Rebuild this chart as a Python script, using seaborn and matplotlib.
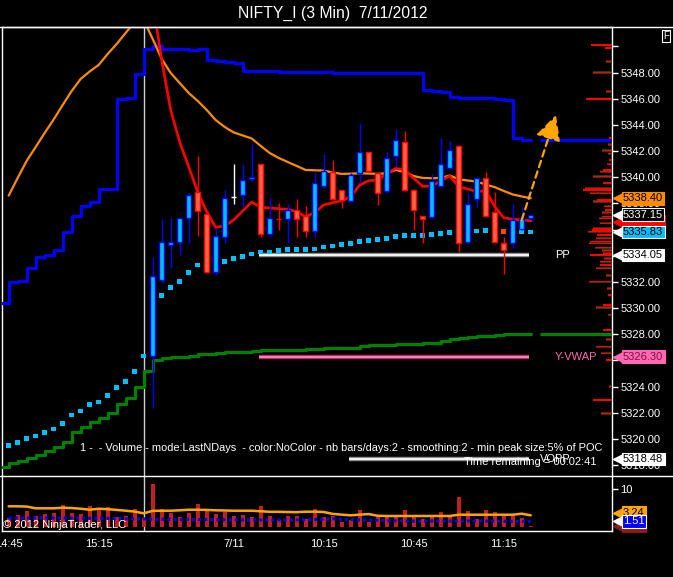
import matplotlib
matplotlib.use("Agg")
import matplotlib.pyplot as plt
from matplotlib.lines import Line2D
import numpy as np
import pandas as pd
import seaborn as sns

# bar index: 0 = first 3-min bar of 7/11, negatives = previous session
prev_idx = list(range(-16, 0))
day_idx = list(range(0, 43))
all_idx = prev_idx + day_idx

# candles of the current session
opens = [5326.34, 5332.13, 5334.83, 5335.03, 5336.87, 5338.85, 5337.17, 5332.79, 5335.46, 5338.50,
         5338.62, 5339.85, 5340.99, 5335.64, 5336.82, 5336.79, 5337.48, 5337.02, 5335.87, 5339.36,
         5340.43, 5339.01, 5338.17, 5340.31, 5341.96, 5340.36, 5338.93, 5341.60, 5342.68, 5339.01,
         5337.07, 5336.94, 5339.34, 5340.69, 5342.40, 5335.03, 5338.32, 5339.97, 5337.38, 5335.00,
         5335.00, 5336.05, 5336.87]
highs = [5333.91, 5336.81, 5336.92, 5337.00, 5338.78, 5341.63, 5337.50, 5336.10, 5339.03, 5341.02,
         5341.02, 5342.55, 5340.99, 5338.47, 5338.01, 5337.96, 5338.32, 5337.81, 5340.43, 5341.78,
         5341.33, 5339.01, 5340.31, 5344.08, 5341.96, 5340.43, 5342.01, 5343.70, 5343.52, 5339.08,
         5337.07, 5340.26, 5343.03, 5342.78, 5342.45, 5338.78, 5340.05, 5340.43, 5338.90, 5335.46,
         5337.96, 5337.71, 5337.15]
lows = [5322.37, 5331.90, 5333.09, 5334.06, 5335.00, 5335.52, 5332.66, 5332.53, 5335.00, 5337.96,
        5337.71, 5339.75, 5335.41, 5335.50, 5335.97, 5335.00, 5335.46, 5335.46, 5335.46, 5339.16,
        5338.27, 5337.68, 5338.14, 5339.54, 5340.40, 5337.91, 5338.80, 5340.82, 5338.98, 5335.97,
        5335.00, 5336.90, 5339.30, 5340.60, 5334.32, 5334.95, 5337.71, 5337.00, 5335.00, 5332.61,
        5334.57, 5336.00, 5336.87]
closes = [5332.48, 5335.03, 5335.03, 5336.92, 5338.62, 5337.40, 5332.79, 5335.49, 5338.45, 5338.50,
          5339.82, 5340.00, 5335.64, 5336.92, 5336.78, 5337.48, 5336.79, 5335.87, 5339.54, 5340.49,
          5338.32, 5338.24, 5340.18, 5341.96, 5340.51, 5338.78, 5341.50, 5342.83, 5339.06, 5337.48,
          5336.79, 5339.69, 5341.00, 5342.06, 5335.00, 5337.99, 5339.97, 5337.04, 5335.03, 5334.45,
          5336.76, 5336.79, 5337.15]

# slow average (orange), bars -16..42
slow_avg = [5338.60, 5339.95, 5341.25, 5342.32, 5343.39, 5344.42, 5345.53, 5346.60, 5347.52, 5348.09,
            5348.59, 5349.43, 5350.19, 5351.04, 5351.88, 5352.03,
            5350.58, 5349.05, 5347.98, 5347.21, 5346.45, 5345.84, 5345.15, 5344.38, 5343.85, 5343.43,
            5343.20, 5342.97, 5342.40, 5341.86, 5341.48, 5341.17, 5340.87, 5340.56, 5340.54, 5340.51,
            5340.37, 5340.26, 5340.28, 5340.31, 5340.29, 5340.26, 5340.31, 5340.56, 5340.41, 5340.10,
            5339.95, 5339.93, 5339.95, 5340.14, 5339.85, 5339.76, 5339.67, 5339.45, 5339.25, 5338.96,
            5338.69, 5338.54, 5338.40]

# fast average (red), bars 0..42
fast_avg = [5353.50, 5348.97, 5345.15, 5342.70, 5340.81, 5338.88, 5337.37, 5336.18, 5336.28, 5336.74,
            5337.43, 5338.11, 5337.71, 5337.66, 5337.60, 5337.56, 5337.37, 5336.99, 5337.30, 5337.89,
            5338.06, 5338.21, 5338.52, 5339.41, 5339.74, 5339.80, 5340.26, 5340.69, 5340.56, 5339.93,
            5339.30, 5339.34, 5339.72, 5340.10, 5339.28, 5339.11, 5338.90, 5338.98, 5337.76, 5336.91,
            5336.79, 5336.74, 5336.68]

# vwap dots, bars -16..42
vwap = [5319.48, 5319.71, 5320.02, 5320.22, 5320.48, 5320.76, 5321.17, 5321.83, 5322.14, 5322.62,
        5322.82, 5323.31, 5323.92, 5324.38, 5325.14, 5326.34,
        5329.55, 5330.95, 5331.56, 5332.02, 5332.71, 5333.30, 5333.30, 5333.37, 5333.55, 5333.78,
        5333.93, 5334.14, 5334.29, 5334.29, 5334.39, 5334.47, 5334.47, 5334.47, 5334.52, 5334.67,
        5334.75, 5334.85, 5334.93, 5335.08, 5335.16, 5335.23, 5335.31, 5335.46, 5335.54, 5335.54,
        5335.57, 5335.65, 5335.72, 5335.77, 5335.84, 5335.84, 5335.90, 5335.92, 5335.92, 5335.84,
        5335.84, 5335.84, 5335.83]
vwap_down_bars = [39]

# stepped bands, bars -17..42
step_idx = list(range(-17, 43))
upper_step = [5330.42, 5332.02, 5332.10, 5333.05, 5333.93, 5334.10, 5334.44, 5335.80, 5337.07, 5337.83,
              5338.14, 5339.13, 5339.13, 5346.01, 5346.09, 5347.92, 5349.83,
              5350.04, 5349.83, 5349.80, 5349.80, 5349.77, 5349.79, 5348.99, 5348.92, 5348.84, 5348.76,
              5348.15, 5348.15, 5348.15, 5348.15, 5348.08, 5348.08, 5348.08, 5348.08, 5348.08, 5348.08,
              5348.00, 5348.00, 5348.00, 5348.00, 5348.00, 5348.00, 5348.00, 5348.00, 5348.00, 5348.00,
              5346.68, 5346.60, 5346.52, 5346.17, 5346.07, 5346.07, 5346.07, 5346.07, 5346.01, 5345.91,
              5343.03, 5342.88, 5342.88]
lower_step = [5317.83, 5318.14, 5318.34, 5318.52, 5318.80, 5319.10, 5319.41, 5319.79, 5320.55, 5320.94,
              5321.32, 5321.58, 5322.01, 5322.65, 5323.15, 5323.99, 5325.19,
              5326.04, 5326.16, 5326.24, 5326.29, 5326.36, 5326.49, 5326.53, 5326.57, 5326.62, 5326.68,
              5326.68, 5326.75, 5326.82, 5326.82, 5326.82, 5326.82, 5326.82, 5326.90, 5326.90, 5326.98,
              5326.98, 5326.98, 5326.98, 5327.08, 5327.16, 5327.16, 5327.16, 5327.24, 5327.24, 5327.24,
              5327.36, 5327.36, 5327.51, 5327.62, 5327.69, 5327.77, 5327.85, 5327.85, 5327.92, 5328.00,
              5328.00, 5328.05, 5328.05]

# horizontal levels
level_names = ["PP", "Y-VWAP", "VOPP"]
level_values = [5334.05, 5326.30, 5318.48]
level_start = [11.8, 11.8, 21.8]
level_end = [41.8, 41.8, 41.8]

# drawn arrow (bar index, price)
arrow_x = [41.0, 44.8]
arrow_y = [5336.74, 5344.77]

# volume profile on the right edge
profile_price = [5350.11, 5349.89, 5348.84, 5348.00, 5346.55, 5345.99, 5343.00, 5342.50, 5342.04, 5341.80,
                 5341.33, 5341.00, 5340.56, 5340.43, 5340.05, 5339.57, 5339.16, 5339.03, 5338.78, 5338.27,
                 5338.14, 5337.80, 5337.50, 5337.30, 5336.99, 5336.87, 5336.50, 5336.10, 5335.97, 5335.84,
                 5335.59, 5335.34, 5335.08, 5334.96, 5334.62, 5334.40, 5334.19, 5334.06, 5333.80, 5333.55,
                 5333.30, 5333.05, 5332.50, 5332.02, 5331.50, 5331.00, 5330.24, 5330.06, 5329.50, 5328.33,
                 5327.60, 5327.05, 5326.55, 5326.04, 5324.00, 5322.98, 5321.96]
profile_len = [21, 7, 6, 19, 6, 26, 3, 4, 10, 4, 3, 5, 9, 12, 19, 9, 27, 29, 22, 15,
               19, 8, 7, 10, 10, 13, 12, 19, 20, 24, 15, 16, 22, 23, 17, 10, 9, 22, 8, 12,
               12, 16, 6, 23, 5, 4, 9, 16, 4, 9, 6, 16, 11, 6, 3, 19, 11]

# price markers on the axis
tag_values = [5336.60, 5338.40, 5337.15, 5335.83, 5334.05, 5326.30, 5318.48]
tag_texts = ["5336.68", "5338.40", "5337.15", "5335.83", "5334.05", "5326.30", "5318.48"]
tag_face = ["#FF0000", "#FF8C00", "#000000", "#00BFFF", "#FFFFFF", "#FF69B4", "#FFFFFF"]
tag_text = ["#FF0000", "#000000", "#FFFFFF", "#000000", "#000000", "#7A1040", "#000000"]

# volume panel, bars -16..42
volume = [2.31, 3.10, 4.16, 2.84, 3.37, 3.63, 5.76, 3.63, 3.37, 5.49, 4.43, 5.23, 2.57, 2.84, 4.69, 2.31,
          11.33, 4.69, 3.63, 2.57, 3.63, 6.02, 4.69, 3.37, 3.90, 2.84, 3.10, 2.57, 5.49, 2.84, 1.78,
          2.84, 2.84, 2.04, 4.69, 2.57, 2.84, 1.25, 1.78, 4.43, 1.25, 2.57, 2.57, 2.57, 4.43, 2.57,
          2.04, 2.84, 3.90, 2.84, 7.88, 4.16, 2.04, 4.43, 3.90, 2.84, 2.84, 2.31, 0.20]
vol_avg = [5.41, 5.41, 5.35, 4.88, 4.88, 4.88, 5.04, 4.95, 4.77, 4.50, 4.77, 4.65, 4.45, 4.25, 4.00, 3.55,
           4.20, 4.24, 4.24, 4.35, 4.50, 4.50, 4.45, 4.35, 4.30, 4.24, 4.24, 4.24, 4.10, 3.95, 3.95,
           3.90, 3.85, 3.98, 3.98, 3.90, 3.40, 3.20, 3.02, 3.20, 3.35, 2.90, 2.84, 2.84, 2.84, 2.84,
           2.84, 2.84, 2.84, 2.84, 3.18, 3.18, 3.18, 3.18, 3.18, 3.18, 3.18, 3.45, 3.02]
vol_base = [2.3, 2.3, 2.3, 2.3, 2.3, 2.3, 2.3, 2.3, 2.25, 2.25, 2.2, 2.2, 2.2, 2.1, 2.1, 2.1,
            2.0, 2.0, 2.0, 1.95, 1.95, 1.9, 1.9, 1.85, 1.85, 1.8, 1.8, 1.8, 1.8, 1.8, 1.8, 1.8, 1.8,
            1.85, 1.9, 2.0, 2.1, 2.0, 1.9, 1.8, 1.75, 1.7, 1.6, 1.6, 1.55, 1.5, 1.5, 1.5, 1.5, 1.5,
            1.5, 1.55, 1.5, 1.5, 1.5, 1.45, 1.45, 1.4, 1.4]
vol_tag_values = [0.15, 3.75, 1.40]
vol_tag_texts = ["0.20", "3.24", "1.51"]
vol_tag_face = ["#8B1A1A", "#FFA500", "#0000FF"]
vol_tag_text = ["#8B1A1A", "#000000", "#FFFFFF"]

tick_idx = [-16, -6, 9, 19, 29, 39]
tick_labels = ["14:45", "15:15", "7/11", "10:15", "10:45", "11:15"]

sns.set_theme(style="dark", rc={"axes.facecolor": "black", "figure.facecolor": "black",
                                "axes.grid": False, "patch.edgecolor": "none"})
plt.rcParams["font.family"] = ["Liberation Sans", "DejaVu Sans"]

W, H = 673, 577
fig = plt.figure(figsize=(W / 100, H / 100), dpi=100)
ax = fig.add_axes([2 / W, 1 - 476 / H, 610 / W, 449 / H])
ax2 = fig.add_axes([2 / W, 1 - 531 / H, 610 / W, 55 / H], sharex=ax)
xmin, xmax = -16.74, 51.03

# --- main price panel ---
candles = pd.DataFrame({"i": day_idx, "o": opens, "h": highs, "l": lows, "c": closes})
candles["up"] = candles["c"] > candles["o"]
candles["doji"] = (candles["c"] - candles["o"]).abs() < 0.01

sns.lineplot(x=step_idx, y=upper_step, ax=ax, color="#0000FF", lw=2.3, drawstyle="steps-post",
             estimator=None, sort=False, legend=False, zorder=3)
sns.lineplot(x=step_idx, y=lower_step, ax=ax, color="#008000", lw=2.3, drawstyle="steps-post",
             estimator=None, sort=False, legend=False, zorder=3)
ax.hlines(upper_step[-1], 43.0, xmax, color="#0000FF", lw=2.3, zorder=3)
ax.hlines(lower_step[-1], 43.0, xmax, color="#008000", lw=2.3, zorder=3)

sns.lineplot(x=all_idx, y=slow_avg, ax=ax, color="#FF8C00", lw=1.6, estimator=None, sort=False,
             legend=False, zorder=3)
sns.lineplot(x=day_idx, y=fast_avg, ax=ax, color="#FF0000", lw=1.9, estimator=None, sort=False,
             legend=False, zorder=3)

dots = pd.DataFrame({"i": all_idx, "v": vwap})
dots["kind"] = np.where(dots["i"].isin(vwap_down_bars), "down", "up")
sns.scatterplot(data=dots, x="i", y="v", hue="kind", palette={"up": "#00BFFF", "down": "#FF4500"},
                marker="s", s=11, linewidth=0, ax=ax, legend=False, zorder=2.5)

for name, val, x0, x1 in zip(level_names, level_values, level_start, level_end):
    if name == "Y-VWAP":
        ax.hlines(val, x0, x1, color="#B03060", lw=3.2, zorder=2)
        ax.hlines(val, x0, x1, color="#FF7FBF", lw=1.4, zorder=2)
        ax.text(44.7, val, name, color="#FF69B4", fontsize=8, va="center", zorder=6)
    else:
        ax.hlines(val, x0, x1, color="#8C8C8C", lw=3.2, zorder=2)
        ax.hlines(val, x0, x1, color="#F5F5F5", lw=1.4, zorder=2)
        lx = 44.7 if name == "PP" else 43.0
        ax.text(lx, val, name, color="white", fontsize=8, va="center", zorder=6)

for _, r in candles.iterrows():
    if r["doji"]:
        fill, edge = "white", "white"
    elif r["up"]:
        fill, edge = "#00BFFF", "#0000FF"
    else:
        fill, edge = "#FF6347", "#FF0000"
    ax.vlines(r["i"], r["l"], r["h"], color=edge, lw=1, zorder=4)
    lo = min(r["o"], r["c"])
    hgt = max(abs(r["c"] - r["o"]), 0.05)
    if r["doji"]:
        ax.hlines(r["o"], r["i"] - 0.3, r["i"] + 0.3, color="white", lw=1, zorder=4)
    else:
        ax.bar(r["i"], hgt, bottom=lo, width=0.5, color=fill, edgecolor=edge, linewidth=1, zorder=4)

ax.annotate("", xy=(arrow_x[1], arrow_y[1]), xytext=(arrow_x[0], arrow_y[0]),
            arrowprops=dict(arrowstyle="-|>,head_length=0.9,head_width=0.45", color="#FFA500",
                            lw=1.6, ls=(0, (3, 2)), mutation_scale=17, shrinkA=0, shrinkB=0),
            zorder=6)

# volume profile hanging off the price axis
axp = ax.twiny()
axp.barh(profile_price, profile_len, height=0.18, left=0, color="#3D3210", linewidth=0)
axp.barh(profile_price, profile_len, height=0.09, left=0, color="#FF0000", linewidth=0)
axp.set_xlim(610, 0)
axp.set_ylim(5317.17, 5351.49)
axp.axis("off")

ax.set_xlim(xmin, xmax)
ax.set_ylim(5317.17, 5351.49)
yt = list(np.arange(5318, 5351, 2))
ax.set_yticks(yt)
ax.set_yticklabels([f"{v:.2f}" if v < 5350 else "" for v in yt])
ax.yaxis.tick_right()
ax.tick_params(axis="y", colors="white", length=4.5, width=1, labelsize=8, pad=1.5)
ax.tick_params(axis="x", bottom=False, labelbottom=False)
for side in ["left", "right", "top"]:
    ax.spines[side].set_color("white")
    ax.spines[side].set_linewidth(1)
ax.spines["bottom"].set_visible(False)
ax.set_xlabel("")
ax.set_ylabel("")
ax.axvline(prev_idx[-1], color="#D0D0D0", lw=1, zorder=1)

ax.text(78 / 610, 0.0617,
        "1 -  - Volume - mode:LastNDays  - color:NoColor - nb bars/days:2 - smoothing:2 - min peak size:5% of POC",
        transform=ax.transAxes, color="white", fontsize=7.9, va="center", ha="left", zorder=7)
ax.text(462 / 610, 0.0318, "Time remaining = 00:02:41", transform=ax.transAxes, color="white",
        fontsize=8, va="center", ha="left", zorder=7)

tr = ax.get_yaxis_transform()
for v, t, fc, tc in zip(tag_values, tag_texts, tag_face, tag_text):
    ec = "white" if fc in ("#000000", "#00BFFF") else fc
    ax.plot(1 + 6 / 610, v, marker="<", ms=7.5, color=ec, transform=tr, clip_on=False, zorder=9)
    ax.text(1 + 11 / 610, v, t, transform=tr, color=tc, fontsize=8, va="center", ha="left",
            bbox=dict(boxstyle="square,pad=0.12", fc=fc, ec=ec, lw=0.8), clip_on=False, zorder=10)

# --- volume panel ---
ax2.bar(all_idx, volume, width=0.42, color="#C02020", edgecolor="none", linewidth=0, zorder=2)
sns.lineplot(x=all_idx, y=vol_avg, ax=ax2, color="#FFA500", lw=1.8, estimator=None, sort=False,
             legend=False, zorder=3)
sns.lineplot(x=all_idx, y=vol_base, ax=ax2, color="#0000FF", lw=2.2, estimator=None,
             sort=False, legend=False, zorder=3, linestyle=(0, (1, 1)))
ax2.axvline(prev_idx[-1], color="#D0D0D0", lw=1, zorder=1)
ax2.set_ylim(-1.14, 13.45)
ax2.set_xlim(xmin, xmax)
ax2.set_yticks([10])
ax2.set_yticklabels(["10"])
ax2.yaxis.tick_right()
ax2.tick_params(axis="y", colors="white", length=4.5, width=1, labelsize=8, pad=1.5)
ax2.set_xticks(tick_idx)
ax2.set_xticklabels(tick_labels)
ax2.tick_params(axis="x", colors="white", length=3, width=1, labelsize=8, pad=3)
for side in ["left", "right", "bottom"]:
    ax2.spines[side].set_color("white")
    ax2.spines[side].set_linewidth(1)
ax2.spines["top"].set_visible(False)
ax2.set_xlabel("")
ax2.set_ylabel("")
ax2.text(1 / 610, 0.115, "\u00a9 2012 NinjaTrader, LLC", transform=ax2.transAxes, color="white",
         fontsize=8, va="center", ha="left", zorder=7)

tr2 = ax2.get_yaxis_transform()
for v, t, fc, tc in zip(vol_tag_values, vol_tag_texts, vol_tag_face, vol_tag_text):
    ec = "white" if fc == "#0000FF" else fc
    ax2.plot(1 + 6 / 610, v, marker="<", ms=7.5, color=ec, transform=tr2, clip_on=False, zorder=9)
    ax2.text(1 + 11 / 610, v, t, transform=tr2, color=tc, fontsize=8, va="center", ha="left",
             bbox=dict(boxstyle="square,pad=0.12", fc=fc, ec=ec, lw=0.8), clip_on=False, zorder=10)

# frame lines and title
fig.add_artist(Line2D([0, 1], [1 - 27 / H] * 2, color="white", lw=1))
fig.add_artist(Line2D([0, 1], [1 - 476 / H] * 2, color="white", lw=1))
fig.text(333 / W, 1 - 13 / H, "NIFTY_I (3 Min)  7/11/2012", color="white", fontsize=11.3,
         ha="center", va="center")
fig.text(666 / W, 1 - 36 / H, "F", color="white", fontsize=7, ha="center", va="center",
         bbox=dict(boxstyle="square,pad=0.15", fc="black", ec="white", lw=0.8))

fig.savefig("out.png", dpi=100, facecolor="black")
